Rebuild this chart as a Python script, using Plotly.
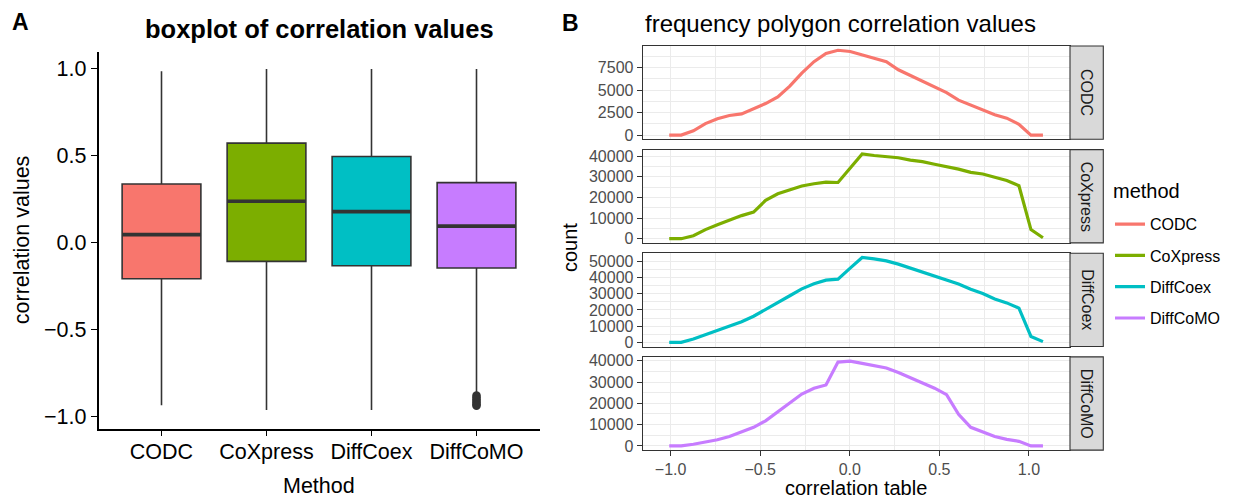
import plotly.graph_objects as go

# ---------------- data ----------------
methods = ["CODC", "CoXpress", "DiffCoex", "DiffCoMO"]
colors = ["#F8766D", "#7CAE00", "#00BFC4", "#C77CFF"]

# Panel A: boxplot summary statistics
box_q1 = [-0.207, -0.107, -0.132, -0.145]
box_median = [0.047, 0.239, 0.179, 0.096]
box_q3 = [0.338, 0.573, 0.496, 0.346]
box_lower = [-0.934, -0.962, -0.962, -0.870]
box_upper = [0.987, 1.0, 1.0, 1.0]
diffcomo_outliers = [-0.878, -0.89, -0.90, -0.91, -0.92, -0.93, -0.938]
box_yticks = [-1.0, -0.5, 0.0, 0.5, 1.0]
box_yticklabels = ["\u22121.0", "\u22120.5", "0.0", "0.5", "1.0"]

# Panel B: frequency polygons
poly_x = [-1.008, -0.941, -0.873, -0.806, -0.739, -0.672, -0.604, -0.537,
          -0.470, -0.402, -0.335, -0.268, -0.200, -0.133, -0.066, 0.002,
          0.069, 0.136, 0.204, 0.271, 0.338, 0.405, 0.473, 0.540,
          0.607, 0.675, 0.742, 0.809, 0.876, 0.944, 1.011, 1.078]
codc_count = [0, 0, 470, 1270, 1810, 2170, 2350, 2900, 3500, 4240, 5430, 6880,
              8150, 9060, 9420, 9280, 8880, 8520, 8150, 7250, 6600, 5980, 5360,
              4710, 3880, 3330, 2720, 2250, 1880, 1200, 0, 0]
coxpress_count = [0, 0, 1420, 4410, 6770, 9130, 11180, 12910, 18580, 21730, 23780,
                  25510, 26610, 27400, 27240, 34200, 41100, 40310, 39840, 39210,
                  38110, 37320, 36060, 34960, 33700, 32130, 31340, 29760, 28190,
                  25670, 4410, 470]
diffcoex_count = [0, 0, 2020, 4640, 7060, 9680, 12700, 16130, 20160, 24800, 28830,
                  33060, 36290, 38510, 39110, 45900, 52500, 51610, 50400, 48390,
                  45970, 43550, 40930, 38510, 36090, 32860, 30240, 26810, 24400,
                  21170, 3630, 400]
diffcomo_count = [0, 0, 770, 1840, 2910, 4440, 6440, 8740, 11800, 15940, 20230,
                  24370, 27130, 28660, 39390, 39850, 38770, 37850, 36630, 34480,
                  32030, 29730, 27130, 24060, 14870, 8740, 6440, 4440, 3070, 2150,
                  0, 0]
poly_counts = [codc_count, coxpress_count, diffcoex_count, diffcomo_count]
poly_xticks = [-1.0, -0.5, 0.0, 0.5, 1.0]
poly_xticklabels = ["\u22121.0", "\u22120.5", "0.0", "0.5", "1.0"]
poly_xminor = [-0.75, -0.25, 0.25, 0.75]
codc_yticks = [0, 2500, 5000, 7500]
codc_yminor = [1250, 3750, 6250, 8750]
big_yticks = [0, 10000, 20000, 30000, 40000, 50000]
big_yminor = [5000, 15000, 25000, 35000, 45000, 55000]

# ---------------- layout helpers ----------------
W, H = 1235, 501
FONT = "Liberation Sans, Arial, Helvetica, sans-serif"


def fx(p):
    return p / W


def fy(p):
    return 1 - p / H


fig = go.Figure()

# ---------------- Panel A ----------------
BOXW = 0.75
for i, m in enumerate(methods):
    fig.add_trace(go.Box(
        x=[i], q1=[box_q1[i]], median=[box_median[i]], q3=[box_q3[i]],
        lowerfence=[box_lower[i]], upperfence=[box_upper[i]],
        width=BOXW, whiskerwidth=0, boxpoints=False,
        fillcolor=colors[i], line=dict(color="#333333", width=1.6),
        name=m, showlegend=False, hoverinfo="skip", xaxis="x", yaxis="y"))
for i, m in enumerate(methods):
    fig.add_trace(go.Scatter(
        x=[i - BOXW / 2, i + BOXW / 2], y=[box_median[i], box_median[i]],
        mode="lines", line=dict(color="#333333", width=3.6),
        showlegend=False, hoverinfo="skip", xaxis="x", yaxis="y"))
fig.add_trace(go.Scatter(
    x=[methods.index("DiffCoMO")] * len(diffcomo_outliers), y=diffcomo_outliers,
    mode="markers", marker=dict(color="#333333", size=8.5),
    showlegend=False, hoverinfo="skip", xaxis="x", yaxis="y"))

# ---------------- Panel B ----------------
for j, m in enumerate(methods):
    fig.add_trace(go.Scatter(
        x=poly_x, y=poly_counts[j], mode="lines", name=m, legendgroup=m,
        line=dict(color=colors[j], width=3.2),
        xaxis=f"x{j + 2}", yaxis=f"y{j + 2}"))

panel_tops = [42.7, 148.0, 253.3, 358.6]
panel_h = 94.8
PX0, PX1 = 642.7, 1070.0
STRIP1 = 1103.3

layout = dict(
    width=W, height=H, autosize=False,
    margin=dict(l=0, r=0, t=0, b=0),
    paper_bgcolor="white", plot_bgcolor="white",
    font=dict(family=FONT, color="black"),
    showlegend=True,
    legend=dict(
        x=fx(1110), xanchor="left", y=fy(206.5), yanchor="top",
        font=dict(size=16, color="black"), tracegroupgap=7.5,
        bgcolor="rgba(0,0,0,0)", borderwidth=0, itemwidth=30),
    xaxis=dict(
        domain=[fx(98.5), fx(539.5)], range=[-0.6, 3.6], anchor="y",
        tickmode="array", tickvals=list(range(len(methods))), ticktext=methods,
        showline=True, linecolor="black", linewidth=1.5,
        ticks="outside", ticklen=6, tickwidth=1.4, tickcolor="black",
        showgrid=False, zeroline=False,
        tickfont=dict(size=21.5, color="black", family=FONT)),
    yaxis=dict(
        domain=[fy(431.5), fy(48.3)], range=[-1.069, 1.10], anchor="x",
        tickmode="array", tickvals=box_yticks, ticktext=box_yticklabels,
        showline=True, linecolor="black", linewidth=1.5,
        ticks="outside", ticklen=6, tickwidth=1.4, tickcolor="black",
        showgrid=False, zeroline=False,
        tickfont=dict(size=21.5, color="black", family=FONT)),
)

shapes = []
annotations = []
for j, m in enumerate(methods):
    top = panel_tops[j]
    bot = top + panel_h
    xa = f"xaxis{j + 2}"
    ya = f"yaxis{j + 2}"
    is_bottom = (j == len(methods) - 1)
    layout[xa] = dict(
        domain=[fx(PX0), fx(PX1)], range=[-1.156, 1.229], anchor=f"y{j + 2}",
        tickmode="array", tickvals=poly_xticks, ticktext=poly_xticklabels,
        showticklabels=is_bottom, ticks="outside" if is_bottom else "",
        ticklen=5, tickwidth=1.1, tickcolor="#333333",
        tickfont=dict(size=16, color="#4D4D4D", family=FONT),
        showgrid=True, gridcolor="#EBEBEB", gridwidth=1.1,
        minor=dict(tickvals=poly_xminor, showgrid=True, gridcolor="#EBEBEB",
                   gridwidth=0.55, ticks=""),
        showline=True, mirror=True, linecolor="#333333", linewidth=1.1,
        zeroline=False)
    ymax = max(poly_counts[j])
    yt = codc_yticks if j == 0 else big_yticks
    ym = codc_yminor if j == 0 else big_yminor
    layout[ya] = dict(
        domain=[fy(bot), fy(top)], range=[-0.05 * ymax, 1.05 * ymax],
        anchor=f"x{j + 2}",
        tickmode="array", tickvals=yt, ticktext=[str(v) for v in yt],
        ticks="outside", ticklen=5, tickwidth=1.1, tickcolor="#333333",
        tickfont=dict(size=16, color="#4D4D4D", family=FONT),
        showgrid=True, gridcolor="#EBEBEB", gridwidth=1.1,
        minor=dict(tickvals=ym, showgrid=True, gridcolor="#EBEBEB",
                   gridwidth=0.55, ticks=""),
        showline=True, mirror=True, linecolor="#333333", linewidth=1.1,
        zeroline=False)
    shapes.append(dict(
        type="rect", xref="paper", yref="paper",
        x0=fx(PX1), x1=fx(STRIP1), y0=fy(bot), y1=fy(top),
        fillcolor="#D9D9D9", line=dict(color="#333333", width=1.1)))
    annotations.append(dict(
        xref="paper", yref="paper", x=fx((PX1 + STRIP1) / 2), y=fy((top + bot) / 2),
        text=m, textangle=90, showarrow=False, xanchor="center", yanchor="middle",
        font=dict(size=16, color="#1A1A1A", family=FONT)))

# titles, axis titles, legend title
annotations += [
    dict(xref="paper", yref="paper", x=fx(20), y=fy(18), text="<b>A</b>",
         showarrow=False, xanchor="center", yanchor="middle",
         font=dict(size=23, color="black", family=FONT)),
    dict(xref="paper", yref="paper", x=fx(570), y=fy(19), text="<b>B</b>",
         showarrow=False, xanchor="center", yanchor="middle",
         font=dict(size=23, color="black", family=FONT)),
    dict(xref="paper", yref="paper", x=fx(319), y=fy(25), text="<b>boxplot of correlation values</b>",
         showarrow=False, xanchor="center", yanchor="middle",
         font=dict(size=25.5, color="black", family=FONT)),
    dict(xref="paper", yref="paper", x=fx(642.7), y=fy(20), text="frequency polygon correlation values",
         showarrow=False, xanchor="left", yanchor="middle",
         font=dict(size=24, color="black", family=FONT)),
    dict(xref="paper", yref="paper", x=fx(22), y=fy(240), text="correlation values",
         textangle=-90, showarrow=False, xanchor="center", yanchor="middle",
         font=dict(size=21.5, color="black", family=FONT)),
    dict(xref="paper", yref="paper", x=fx(319), y=fy(490), text="Method",
         showarrow=False, xanchor="center", yanchor="middle",
         font=dict(size=21.5, color="black", family=FONT)),
    dict(xref="paper", yref="paper", x=fx(570), y=fy(248), text="count",
         textangle=-90, showarrow=False, xanchor="center", yanchor="middle",
         font=dict(size=20, color="black", family=FONT)),
    dict(xref="paper", yref="paper", x=fx(856.4), y=fy(491.5), text="correlation table",
         showarrow=False, xanchor="center", yanchor="middle",
         font=dict(size=20, color="black", family=FONT)),
    dict(xref="paper", yref="paper", x=fx(1111), y=fy(190), text="method",
         showarrow=False, xanchor="left", yanchor="middle",
         font=dict(size=20, color="black", family=FONT)),
]

layout["shapes"] = shapes
layout["annotations"] = annotations
fig.update_layout(**layout)

try:
    fig.update_layout(xaxis_ticklabelstandoff=-3)
except Exception:
    pass

fig.write_html("out.html")
